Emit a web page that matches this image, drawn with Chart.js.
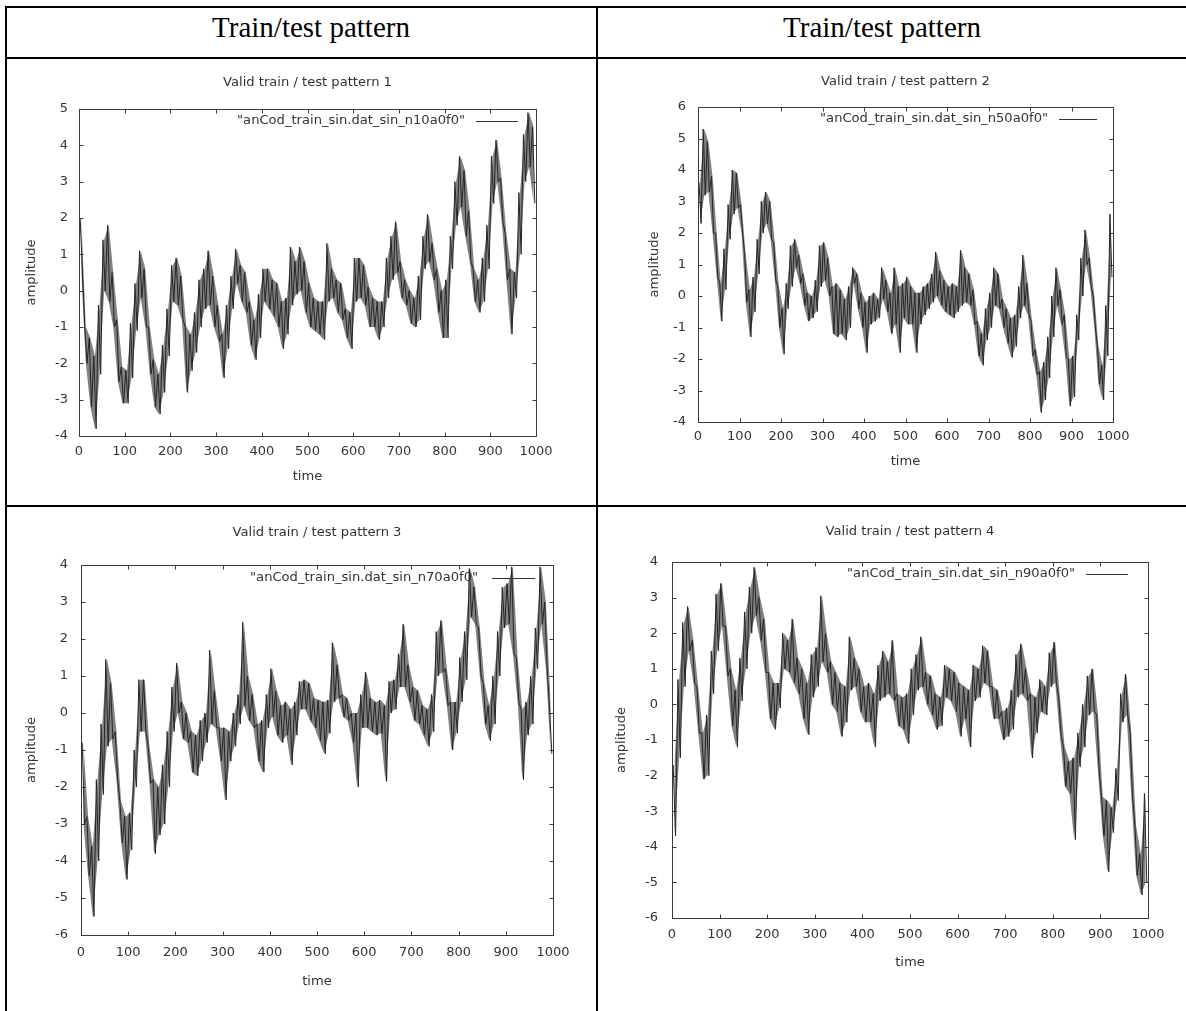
<!DOCTYPE html>
<html><head><meta charset="utf-8">
<script src="https://cdn.jsdelivr.net/npm/chart.js@4.4.1/dist/chart.umd.min.js"></script>
<style>
html,body{margin:0;padding:0;background:#fff;}
body{width:1186px;height:1011px;position:relative;overflow:hidden;}
.ln{position:absolute;background:#000;}
.hdr{position:absolute;font-family:"Liberation Serif","Times New Roman",serif;font-size:29px;line-height:30px;color:#000;text-align:center;white-space:nowrap;}
canvas{position:absolute;}
</style></head><body>
<div class="ln" style="left:5px;top:6px;width:1181px;height:2px"></div>
<div class="ln" style="left:5px;top:57px;width:1181px;height:2px"></div>
<div class="ln" style="left:5px;top:505px;width:1181px;height:2px"></div>
<div class="ln" style="left:5px;top:6px;width:2px;height:1005px"></div>
<div class="ln" style="left:596px;top:6px;width:2px;height:1005px"></div>
<div class="hdr" style="left:111px;width:400px;top:12px">Train/test pattern</div>
<div class="hdr" style="left:682px;width:400px;top:12px">Train/test pattern</div>
<canvas id="c1"></canvas><canvas id="c2"></canvas><canvas id="c3"></canvas><canvas id="c4"></canvas>
<script>
// ---- data: per 10-time-unit bin, upper and lower excursion of the noisy trace ----
const xTicks = [0,100,200,300,400,500,600,700,800,900,1000];
const titles = ['Valid train / test pattern 1','Valid train / test pattern 2','Valid train / test pattern 3','Valid train / test pattern 4'];
const seriesNames = ['"anCod_train_sin.dat_sin_n10a0f0"','"anCod_train_sin.dat_sin_n50a0f0"','"anCod_train_sin.dat_sin_n70a0f0"','"anCod_train_sin.dat_sin_n90a0f0"'];
const yRanges = [[-4,5],[-4,6],[-6,4],[-6,4]];

const p1High = [2.0,-1.0,-1.3,-1.8,-0.4,1.4,1.8,0.5,-0.8,-2.1, -2.2,-0.9,0.2,1.1,0.6,-1.0,-1.9,-2.3,-1.5,-0.5, 0.7,0.9,0.4,-1.0,-1.2,-0.6,0.3,0.6,1.1,0.4, -0.4,-1.2,-0.4,0.4,1.15,0.7,0.5,-0.3,-0.8,-0.1, 0.6,0.6,0.3,0.2,-0.3,-0.2,1.2,0.8,1.2,0.8, 0.2,-0.2,-0.3,-0.3,1.3,0.6,0.3,0.2,-0.5,-0.6, 0.9,0.9,0.7,0.1,-0.2,-0.3,-0.3,0.9,1.5,1.9, 0.8,0.3,0.0,-0.2,0.4,1.5,2.1,1.3,0.6,0.0, 0.3,1.5,3.0,3.7,3.3,2.2,0.6,0.3,0.9,1.8, 3.7,4.15,3.1,1.6,0.6,0.5,2.7,4.3,4.9,4.5];
const p1Low = [0.5,-2.0,-3.2,-3.8,-2.3,0.0,-0.3,-1.0,-2.5,-3.1, -3.1,-2.4,-1.1,-0.2,-1.0,-2.3,-3.2,-3.4,-2.8,-1.8, -0.3,-0.4,-0.8,-2.8,-2.2,-1.7,-1.0,-0.5,-0.4,-1.0, -1.4,-2.4,-1.6,-0.5,0.2,-0.3,-0.6,-1.5,-1.9,-1.3, -0.3,-0.5,-0.7,-1.0,-1.6,-1.2,-0.4,-0.1,0.0,-0.6, -1.0,-1.1,-1.2,-1.35,-0.3,-0.2,-0.6,-0.8,-1.3,-1.6, -0.3,-0.2,-0.4,-1.0,-1.0,-1.35,-1.0,-0.2,0.3,0.5, -0.2,-0.4,-0.9,-1.0,-0.8,0.6,0.8,0.3,-0.6,-1.3, -1.3,0.6,1.8,2.3,1.5,0.8,-0.3,-0.6,-0.3,0.6, 2.4,3.0,1.9,0.3,-1.2,-0.2,1.0,3.0,3.4,2.4];

const p2High = [3.6,5.3,4.9,3.8,2.0,0.4,1.5,2.9,4.0,3.9, 2.9,1.3,0.2,0.6,1.8,3.0,3.3,3.0,1.7,0.3, -0.4,0.4,1.6,1.8,1.3,0.7,0.1,0.0,0.5,1.6, 1.7,1.2,0.3,0.4,0.2,-0.1,0.3,0.9,0.7,0.1, -0.2,0.0,0.1,-0.1,0.9,0.5,0.1,0.9,0.3,0.4, 0.6,0.3,0.1,0.1,0.3,0.4,0.7,1.4,0.8,0.5, 0.3,0.4,0.3,1.45,0.9,0.7,0.2,-0.8,-1.2,-0.4, 0.1,0.9,0.7,-0.1,-0.4,-0.7,-0.6,0.3,1.3,0.4, -0.8,-1.7,-2.4,-2.1,-1.3,0.0,0.9,0.2,-0.6,-2.0, -1.9,-0.6,1.2,2.1,1.2,0.0,-1.6,-2.2,-0.3,2.6];
const p2Low = [2.3,3.2,3.3,2.0,0.6,-0.8,0.2,1.8,2.6,2.8, 2.0,-0.2,-1.3,-0.5,0.7,2.0,2.3,1.8,0.5,-1.0, -1.85,-0.4,0.3,0.9,0.4,-0.3,-0.8,-0.7,-0.5,0.3, 0.5,0.0,-1.2,-1.3,-1.2,-1.4,-1.0,0.4,-0.4,-1.0, -1.8,-0.9,-0.8,-0.7,-0.1,-0.5,-1.2,-0.9,-1.8,-0.7, -0.9,-0.9,-1.8,-0.9,-0.6,-0.4,-0.2,0.0,-0.3,-0.5, -0.6,-0.7,-0.5,-0.3,-0.2,-0.3,-0.9,-1.9,-2.2,-1.4, -1.0,-0.3,-0.4,-1.0,-1.5,-1.95,-1.6,-0.7,-0.3,-0.6, -1.9,-2.5,-3.7,-3.3,-2.6,-1.3,-0.3,-0.9,-1.95,-3.5, -3.2,-1.4,0.0,1.0,0.3,-1.0,-2.8,-3.3,-1.9,0.6];

const p3High = [-0.8,-2.8,-3.6,-1.8,-0.3,1.45,0.8,-0.5,-2.4,-2.8, -2.7,-1.0,0.9,0.9,-0.9,-1.8,-2.0,-1.4,-0.5,0.7, 1.35,0.3,0.0,-0.5,-0.6,-0.2,0.0,1.7,0.6,-0.4, -0.4,-0.5,0.0,0.5,2.45,1.0,0.5,-0.3,-0.2,0.5, 1.2,0.6,0.2,0.3,0.1,0.3,0.85,0.9,0.8,0.4, 0.35,0.3,0.35,1.9,1.3,0.5,0.4,0.0,0.0,0.5, 1.1,0.4,0.3,0.35,0.2,0.85,0.9,1.6,2.4,1.3, 0.7,0.6,0.2,0.1,0.5,2.2,2.5,1.2,0.3,0.3, 1.5,2.2,3.9,3.4,2.3,0.8,0.2,1.0,2.2,3.4, 3.5,3.95,1.5,0.1,0.3,1.0,2.3,3.95,3.0,0.2];
const p3Low = [-3.0,-4.4,-5.5,-4.0,-2.2,-0.9,-0.7,-1.8,-3.5,-4.5, -3.7,-2.0,-0.5,-0.5,-1.9,-3.8,-3.3,-3.0,-2.0,-0.5, 0.0,-0.7,-0.8,-1.6,-1.7,-1.3,-0.8,-0.3,-0.4,-1.3, -2.35,-1.3,-0.9,-0.3,0.2,-0.2,-0.4,-1.3,-1.6,-0.4, -0.1,-0.6,-0.8,-0.6,-1.4,-0.6,0.1,0.1,-0.2,-0.4, -0.75,-1.1,-0.55,0.3,0.4,-0.1,-0.2,-0.8,-2.0,-0.4, -0.4,-0.5,-0.6,-0.55,-1.85,0.0,0.1,0.7,0.7,0.3, -0.2,-0.3,-0.6,-0.9,-0.5,1.0,1.1,0.2,-1.0,-0.55, 0.3,0.9,2.6,2.4,1.0,-0.3,-0.75,-0.3,1.0,2.3, 2.4,1.6,0.3,-1.8,-0.6,-0.3,1.2,2.4,1.2,-1.1];

const p4High = [-1.7,0.7,2.3,2.75,1.8,0.5,-0.8,-0.3,1.5,3.1, 3.4,2.2,1.0,0.4,1.3,2.6,3.3,3.85,3.0,2.4, 0.9,0.6,0.6,2.0,1.8,2.4,1.3,1.0,0.6,1.4, 1.6,3.05,2.0,1.2,0.9,0.6,0.5,1.9,1.3,1.0, 0.5,0.6,0.3,1.1,1.5,1.2,1.8,0.3,0.2,0.3, 1.0,1.4,1.9,0.9,0.8,0.3,0.2,1.1,1.0,0.9, 0.6,0.5,0.4,1.1,1.0,1.65,1.5,0.5,0.4,-0.2, -0.1,0.4,1.4,1.7,1.0,0.3,0.2,0.7,0.5,1.45, 1.75,0.2,-1.2,-1.6,-1.5,-0.8,0.0,0.8,1.0,-0.3, -2.6,-2.7,-2.9,-1.8,0.3,0.85,-0.8,-3.4,-4.2,-2.5];
const p4Low = [-3.7,-1.5,0.5,1.5,0.6,-0.8,-2.1,-2.0,0.3,1.5, 2.2,0.8,-0.6,-1.2,0.1,1.0,2.0,2.5,1.8,0.9, -0.4,-0.7,-0.1,1.0,0.9,0.6,0.3,-0.4,-0.85,0.2, 0.5,1.2,0.9,0.0,-0.2,-0.9,-0.5,0.4,0.5,-0.2, -0.5,-0.5,-1.2,0.1,0.2,0.3,0.1,-0.6,-0.7,-1.1, -0.3,0.4,0.5,0.0,-0.3,-0.7,-0.6,0.2,0.1,-0.2, -0.9,-0.4,-1.2,0.1,0.2,0.6,0.5,-0.4,-0.4,-1.0, -0.9,-0.7,0.2,0.3,0.1,-1.5,-0.8,-0.2,-0.3,0.5, 0.6,-0.9,-2.3,-2.5,-3.8,-1.75,-1.2,-0.3,-0.2,-1.9, -3.7,-4.7,-3.6,-2.7,-0.5,-0.3,-2.6,-4.8,-5.35,-5.0];

const highs = [p1High,p2High,p3High,p4High];
const lows = [p1Low,p2Low,p3Low,p4Low];

// ---- layout (page pixels of each plot frame, text offsets) ----
const layouts = [
  {id:'c1', l:79,  r:536,  t:109, b:436, titleDy:26, legDy:12, legTextR:71, legL1:60, legL2:18, timeDy:41, ampDx:47, xPad:8,  yPad:11},
  {id:'c2', l:698, r:1113, t:107, b:422, titleDy:25, legDy:12, legTextR:65, legL1:54, legL2:16, timeDy:40, ampDx:43, xPad:7,  yPad:12},
  {id:'c3', l:81,  r:553,  t:565, b:935, titleDy:32, legDy:13, legTextR:75, legL1:61, legL2:18, timeDy:47, ampDx:49, xPad:10, yPad:13},
  {id:'c4', l:672, r:1148, t:562, b:918, titleDy:30, legDy:12, legTextR:73, legL1:62, legL2:20, timeDy:45, ampDx:50, xPad:9,  yPad:14}
];
const M = {left:75, top:60, right:45, bottom:60, yAxisW:40, xAxisH:30};
const TEXT = '#333333';
const FONT = 'DejaVu Sans';
const TICK = 4;

function zigzag(hi, lo) {
  const pts = [];
  for (let i = 0; i < hi.length; i++) {
    pts.push({x: i*10 + 2.5, y: hi[i]});
    pts.push({x: i*10 + 7.5, y: lo[i]});
  }
  return pts;
}
function envelope(vals) {
  return vals.map((v, i) => ({x: i*10 + 5, y: v}));
}

function gnuPlugin(L, title, key) {
  return {
    id: 'gnu',
    beforeDatasetsDraw(chart) {
      const {ctx, chartArea: a, scales: {x, y}} = chart;
      ctx.save();
      ctx.strokeStyle = '#3a3a3a'; ctx.lineWidth = 1;
      const L0 = Math.round(a.left)+0.5, T0 = Math.round(a.top)+0.5, R0 = Math.round(a.right)+0.5, B0 = Math.round(a.bottom)+0.5;
      ctx.strokeRect(L0, T0, R0-L0, B0-T0);
      ctx.beginPath();
      x.ticks.forEach(t => {
        const px = Math.round(x.getPixelForValue(t.value)) + 0.5;
        ctx.moveTo(px, B0); ctx.lineTo(px, B0 - TICK);
        ctx.moveTo(px, T0); ctx.lineTo(px, T0 + TICK);
      });
      y.ticks.forEach(t => {
        const py = Math.round(y.getPixelForValue(t.value)) + 0.5;
        ctx.moveTo(L0, py); ctx.lineTo(L0 + TICK, py);
        ctx.moveTo(R0, py); ctx.lineTo(R0 - TICK, py);
      });
      ctx.stroke();
      ctx.restore();
    },
    afterDraw(chart) {
      const {ctx, chartArea: a} = chart;
      const cx = (a.left + a.right)/2;
      ctx.save();
      ctx.fillStyle = TEXT;
      ctx.font = '13.1px "' + FONT + '"';
      ctx.textBaseline = 'middle';
      ctx.textAlign = 'center';
      ctx.fillText(title, cx, a.top - L.titleDy);
      ctx.fillText('time', cx, a.bottom + L.timeDy);
      ctx.textAlign = 'right';
      ctx.fillText(key, a.right - L.legTextR, a.top + L.legDy);
      ctx.strokeStyle = '#333'; ctx.lineWidth = 1;
      ctx.beginPath();
      const ly = Math.round(a.top + L.legDy) + 0.5;
      ctx.moveTo(a.right - L.legL1, ly); ctx.lineTo(a.right - L.legL2, ly);
      ctx.stroke();
      ctx.translate(a.left - L.ampDx, (a.top + a.bottom)/2);
      ctx.rotate(-Math.PI/2);
      ctx.textAlign = 'center';
      ctx.fillText('amplitude', 0, 0);
      ctx.restore();
    }
  };
}

Chart.defaults.font.family = FONT;

layouts.forEach((L, k) => {
  const cv = document.getElementById(L.id);
  const w = (L.r - L.l) + M.left + M.right;
  const h = (L.b - L.t) + M.top + M.bottom;
  cv.width = w; cv.height = h;
  cv.style.left = (L.l - M.left) + 'px';
  cv.style.top = (L.t - M.top) + 'px';
  cv.style.width = w + 'px'; cv.style.height = h + 'px';
  new Chart(cv, {
    type: 'line',
    data: { datasets: [
      { data: envelope(highs[k]), borderWidth: 0, pointRadius: 0, tension: 0, fill: '+1', backgroundColor: 'rgba(38,38,38,0.58)' },
      { data: envelope(lows[k]), borderWidth: 0, pointRadius: 0, tension: 0, fill: false },
      { data: zigzag(highs[k], lows[k]), borderColor: '#262626', borderWidth: 1, pointRadius: 0, tension: 0, fill: false }
    ] },
    options: {
      responsive: false, animation: false, devicePixelRatio: 1, events: [],
      layout: { padding: { left: M.left - M.yAxisW, top: M.top, right: M.right, bottom: M.bottom - M.xAxisH } },
      plugins: { legend: { display: false }, tooltip: { enabled: false }, title: { display: false } },
      scales: {
        x: {
          type: 'linear', min: xTicks[0], max: xTicks[xTicks.length-1],
          afterBuildTicks: s => { s.ticks = xTicks.map(v => ({value: v})); },
          afterFit: s => { s.height = M.xAxisH; },
          grid: { display: false, drawTicks: false }, border: { display: false },
          ticks: { color: TEXT, font: { size: 13 }, padding: L.xPad, maxRotation: 0, autoSkip: false, callback: v => String(v) }
        },
        y: {
          type: 'linear', min: yRanges[k][0], max: yRanges[k][1],
          afterFit: s => { s.width = M.yAxisW; },
          grid: { display: false, drawTicks: false }, border: { display: false },
          ticks: { color: TEXT, font: { size: 13 }, padding: L.yPad, stepSize: 1, autoSkip: false, callback: v => String(v) }
        }
      }
    },
    plugins: [gnuPlugin(L, titles[k], seriesNames[k])]
  });
});
</script>
</body></html>
